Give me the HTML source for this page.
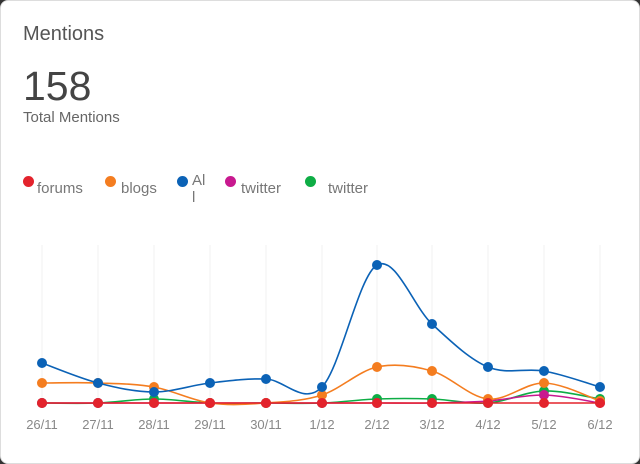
<!DOCTYPE html>
<html><head><style>
html,body{margin:0;padding:0;background:#333;}
.card{position:absolute;left:0;top:0;width:638px;height:462px;background:#fff;border:1px solid #ddd;border-radius:8px;font-family:"Liberation Sans",sans-serif;overflow:hidden}
.t{position:absolute;left:22px;top:22px;font-size:20px;color:#555}
.n{position:absolute;left:22px;top:62px;font-size:41px;color:#444}
.s{position:absolute;left:22px;top:108px;font-size:15px;color:#666}
.lg{position:absolute;top:179px;font-size:15px;color:#777}
.d{position:absolute;width:11px;height:11px;border-radius:50%;top:175px}
</style></head><body>
<div class="card">
<div class="t">Mentions</div>
<div class="n">158</div>
<div class="s">Total Mentions</div>
<div class="d" style="left:22px;background:#e3232c"></div><div class="lg" style="left:36px">forums</div>
<div class="d" style="left:104px;background:#f47d20"></div><div class="lg" style="left:120px">blogs</div>
<div class="d" style="left:176px;background:#0b62b6"></div><div class="lg" style="left:191px;top:171px;line-height:17px">Al<br>l</div>
<div class="d" style="left:224px;background:#c8198f"></div><div class="lg" style="left:240px">twitter</div>
<div class="d" style="left:304px;background:#0ead45"></div><div class="lg" style="left:327px">twitter</div>
<svg id="c" width="640" height="464" style="position:absolute;left:-1px;top:-1px"></svg>
</div>
<script>
var X=[42,98,154,210,266,322,377,432,488,544,600];
var S=[
["#0ead45",[403,403,399,403,403,403,399,399,403,391,399]],
["#c8198f",[403,403,403,403,403,403,403,403,401,395,403]],
["#f47d20",[383,383,387,403,403,395,367,371,399,383,401]],
["#0b62b6",[363,383,392,383,379,387,265,324,367,371,387]],
["#e3232c",[403,403,403,403,403,403,403,403,403,403,403]]];
var h='';
X.forEach(function(x){h+='<line x1="'+x+'" y1="245" x2="'+x+'" y2="403" stroke="#f0f0f0" stroke-width="1"/>';});
var labs=["26/11","27/11","28/11","29/11","30/11","1/12","2/12","3/12","4/12","5/12","6/12"];
X.forEach(function(x,i){h+='<text x="'+x+'" y="429" font-size="13" fill="#888" text-anchor="middle" font-family="Liberation Sans,sans-serif">'+labs[i]+'</text>';});
S.forEach(function(s){
 var Y=s[1],d='M'+X[0]+' '+Y[0];
 for(var i=0;i<X.length-1;i++){
  var p0=i>0?i-1:i,p3=i+2<X.length?i+2:i+1;
  var c1x=X[i]+(X[i+1]-X[p0])/6,c1y=Y[i]+(Y[i+1]-Y[p0])/6;
  var c2x=X[i+1]-(X[p3]-X[i])/6,c2y=Y[i+1]-(Y[p3]-Y[i])/6;
  d+=' C'+c1x+' '+c1y+' '+c2x+' '+c2y+' '+X[i+1]+' '+Y[i+1];
 }
 h+='<path d="'+d+'" fill="none" stroke="'+s[0]+'" stroke-width="1.6"/>';
 X.forEach(function(x,i){h+='<circle cx="'+x+'" cy="'+Y[i]+'" r="5" fill="'+s[0]+'"/>';});
});
document.getElementById('c').innerHTML=h;
</script>
</body></html>
